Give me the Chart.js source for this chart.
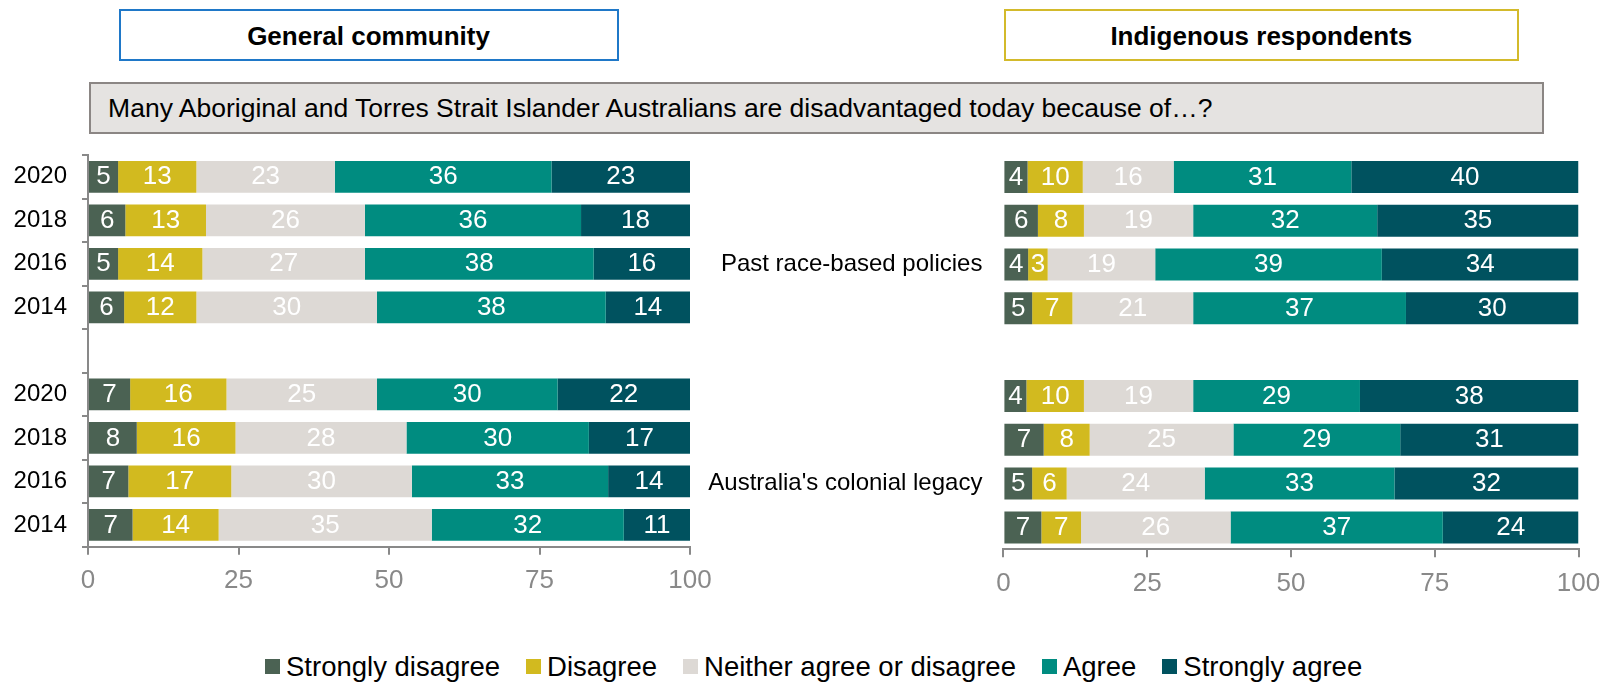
<!DOCTYPE html>
<html>
<head>
<meta charset="utf-8">
<script src="https://cdn.jsdelivr.net/npm/chart.js@4.4.1/dist/chart.umd.min.js"></script>
<style>
  html, body { margin: 0; padding: 0; background: #fff; }
  body { width: 1615px; height: 683px; position: relative; overflow: hidden;
         font-family: "Liberation Sans", Arial, sans-serif; color: #000; }
  .panel-title { position: absolute; box-sizing: border-box; top: 8.7px; height: 52.3px;
                 border: 2px solid; background: #fff; text-align: center;
                 font-weight: bold; font-size: 26px; line-height: 46px; padding-top: 2px; }
  #question { position: absolute; box-sizing: border-box; left: 88.6px; top: 81.7px;
              width: 1455.4px; height: 52.3px; border: 2px solid #8b8684; background: #e5e3e1;
              font-size: 26.5px; line-height: 47px; padding-left: 17.5px; padding-top: 1px; white-space: nowrap; }
  canvas { position: absolute; top: 140px; }
  #legend { position: absolute; left: 265px; top: 650px; display: flex; align-items: center;
            font-size: 27.5px; line-height: 33px; white-space: nowrap; }
  #legend .item { display: flex; align-items: center; margin-right: 26px; }
  #legend .swatch { width: 15px; height: 15px; margin-right: 6px; }
</style>
</head>
<body>
<div class="panel-title" style="left:118.5px;width:500px;border-color:#1f78c8;">General community</div>
<div class="panel-title" style="left:1004px;width:514.7px;border-color:#d3ba2b;">Indigenous respondents</div>
<div id="question">Many Aboriginal and Torres Strait Islander Australians are disadvantaged today because of…?</div>
<canvas id="leftChart" width="740" height="480" style="left:0px;width:740px;height:480px;"></canvas>
<canvas id="rightChart" width="925" height="480" style="left:690px;width:925px;height:480px;"></canvas>
<div id="legend"></div>

<script>
// rows: past race-based policies 2020..2014, gap, colonial legacy 2020..2014
const yearLabels = ["2020", "2018", "2016", "2014", "", "2020", "2018", "2016", "2014"];
const statementLabels = ["", "", "Past race-based policies", "", "", "", "", "Australia's colonial legacy", ""];
const xTicks = [0, 25, 50, 75, 100];

const seriesNames = ["Strongly disagree", "Disagree", "Neither agree or disagree", "Agree", "Strongly agree"];
const seriesColors = ["#4b6253", "#d2ba1f", "#ddd9d5", "#008c80", "#00525f"];

// General community
const generalStronglyDisagree = [5, 6.2, 5, 6, null, 7, 8.1, 6.7, 7.4];
const generalDisagree = [13, 13.4, 14, 12, null, 16, 16.4, 17.1, 14.3];
const generalNeither = [23, 26.4, 27, 30, null, 25, 28.4, 30.0, 35.4];
const generalAgree = [36, 35.9, 38, 38, null, 30, 30.3, 32.6, 31.9];
const generalStronglyAgree = [23, 18.1, 16, 14, null, 22, 16.8, 13.6, 11.0];

// Indigenous respondents
const indigenousStronglyDisagree = [4.2, 6, 4.3, 5, null, 4, 7, 5, 6.6];
const indigenousDisagree = [9.6, 8, 3.4, 7, null, 10, 8, 6, 6.9];
const indigenousNeither = [15.8, 19, 18.7, 21, null, 19, 25, 24, 26.0];
const indigenousAgree = [30.9, 32, 39.4, 37, null, 29, 29, 33, 36.9];
const indigenousStronglyAgree = [39.5, 35, 34.2, 30, null, 38, 31, 32, 23.6];

const FONT = '"Liberation Sans", Arial, sans-serif';
const AXIS_GREY = "#898989";
Chart.defaults.font.family = FONT;

// white numbers in the middle of every segment
const valueLabels = {
  id: "valueLabels",
  afterDatasetsDraw(chart) {
    const ctx = chart.ctx;
    ctx.save();
    ctx.font = "26px " + FONT;
    ctx.fillStyle = "#ffffff";
    ctx.textAlign = "center";
    ctx.textBaseline = "middle";
    chart.data.datasets.forEach((ds, i) => {
      chart.getDatasetMeta(i).data.forEach((bar, j) => {
        const v = ds.data[j];
        if (v == null) return;
        const p = bar.getCenterPoint();
        ctx.fillText(String(Math.round(v)), p.x, p.y + 0.5);
      });
    });
    ctx.restore();
  }
};

function pin(size) {
  return scale => {
    if (scale.isHorizontal()) scale.height = size;
    else scale.width = size;
    scale.paddingTop = scale.paddingBottom = scale.paddingLeft = scale.paddingRight = 0;
  };
}

function makeDatasets(series) {
  return series.map((data, i) => ({
    label: seriesNames[i],
    data: data,
    backgroundColor: seriesColors[i],
    borderWidth: 0,
    barPercentage: 0.73,
    categoryPercentage: 1
  }));
}

function makeChart(id, labels, series, opts) {
  return new Chart(document.getElementById(id), {
    type: "bar",
    data: { labels: labels, datasets: makeDatasets(series) },
    options: {
      indexAxis: "y",
      responsive: false,
      animation: false,
      devicePixelRatio: 1,
      layout: { padding: opts.padding },
      plugins: { legend: { display: false }, tooltip: { enabled: false } },
      scales: {
        x: {
          stacked: true,
          min: 0,
          max: 100,
          afterFit: pin(opts.xHeight),
          afterBuildTicks: scale => { scale.ticks = xTicks.map(v => ({ value: v })); },
          ticks: { color: AXIS_GREY, font: { size: 26 }, padding: 11, maxRotation: 0 },
          grid: { drawOnChartArea: false, drawTicks: true, tickLength: 8, color: AXIS_GREY, lineWidth: 2 },
          border: { display: true, color: AXIS_GREY, width: 2 }
        },
        y: {
          stacked: true,
          afterFit: pin(opts.yWidth),
          ticks: { color: "#000", font: { size: 24 }, padding: opts.yPadding, autoSkip: false },
          grid: opts.yAxisLine
            ? { offset: true, drawOnChartArea: false, drawTicks: true, tickLength: 6, color: AXIS_GREY, lineWidth: 2 }
            : { display: false, drawTicks: false },
          border: { display: opts.yAxisLine, color: AXIS_GREY, width: 2 }
        }
      }
    },
    plugins: [valueLabels]
  });
}

makeChart("leftChart", yearLabels,
  [generalStronglyDisagree, generalDisagree, generalNeither, generalAgree, generalStronglyAgree],
  { padding: { top: 15, left: 0, right: 50, bottom: 0 }, xHeight: 73.3, yWidth: 88, yPadding: 15, yAxisLine: true });

makeChart("rightChart", statementLabels,
  [indigenousStronglyDisagree, indigenousDisagree, indigenousNeither, indigenousAgree, indigenousStronglyAgree],
  { padding: { top: 15, left: 0, right: 36.5, bottom: 0 }, xHeight: 70.7, yWidth: 313.4, yPadding: 21, yAxisLine: false });

// shared legend under both panels
const legend = document.getElementById("legend");
seriesNames.forEach((name, i) => {
  const item = document.createElement("div");
  item.className = "item";
  const sw = document.createElement("span");
  sw.className = "swatch";
  sw.style.background = seriesColors[i];
  const txt = document.createElement("span");
  txt.textContent = name;
  item.appendChild(sw);
  item.appendChild(txt);
  legend.appendChild(item);
});
</script>
</body>
</html>
